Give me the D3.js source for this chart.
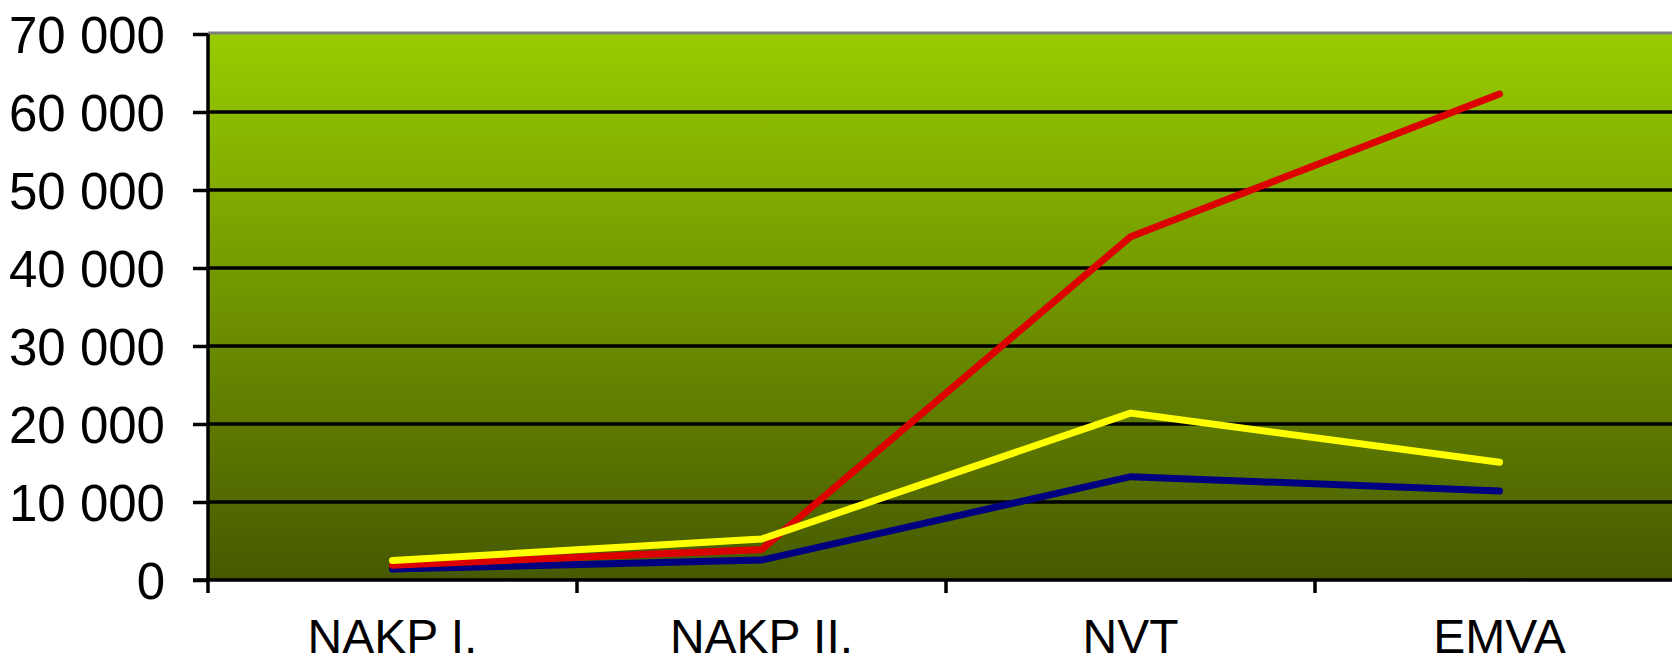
<!DOCTYPE html>
<html>
<head>
<meta charset="utf-8">
<script src="https://cdn.jsdelivr.net/npm/d3@7"></script>
<style>
  html, body { margin: 0; padding: 0; background: #fff; overflow: hidden; }
  svg { display: block; font-family: "Liberation Sans", Arial, sans-serif; }
</style>
</head>
<body>
<div id="chart"></div>
<script>
// data
var categories = ["NAKP I.", "NAKP II.", "NVT", "EMVA"];
var redValues = [1900, 3900, 44000, 62300];
var yellowValues = [2500, 5250, 21400, 15100];
var blueValues = [1400, 2550, 13250, 11400];
var yTicks = [0, 10000, 20000, 30000, 40000, 50000, 60000, 70000];

var width = 1672,
    height = 664;

var plot = { left: 208, top: 34, right: 1684, bottom: 580 };

var svg = d3.select("#chart").append("svg")
    .attr("width", width)
    .attr("height", height);

var x = d3.scaleBand()
    .domain(categories)
    .range([plot.left, plot.right]);

var y = d3.scaleLinear()
    .domain([0, 70000])
    .range([plot.bottom, plot.top]);

// background gradient
var defs = svg.append("defs");
var grad = defs.append("linearGradient")
    .attr("id", "bg")
    .attr("x1", 0).attr("y1", 0)
    .attr("x2", 0).attr("y2", 1);
grad.append("stop").attr("offset", "0%").attr("stop-color", "#99cc00");
grad.append("stop").attr("offset", "100%").attr("stop-color", "#465900");

svg.append("rect")
    .attr("x", plot.left)
    .attr("y", plot.top)
    .attr("width", plot.right - plot.left)
    .attr("height", plot.bottom - plot.top)
    .attr("fill", "url(#bg)");

// top border
svg.append("line")
    .attr("x1", plot.left).attr("x2", plot.right)
    .attr("y1", plot.top - 1).attr("y2", plot.top - 1)
    .attr("stroke", "#808080")
    .attr("stroke-width", 3);

// gridlines
svg.append("g")
    .selectAll("line")
    .data(yTicks.filter(d => d > 0 && d < 70000))
    .join("line")
    .attr("x1", plot.left).attr("x2", plot.right)
    .attr("y1", d => y(d)).attr("y2", d => y(d))
    .attr("stroke", "#000")
    .attr("stroke-width", 3.5);

// y axis
var fmt = function (d) {
    return d3.format(",")(d).replace(/,/g, " ");
};
var yAxis = svg.append("g")
    .attr("transform", "translate(" + plot.left + ",0)")
    .call(d3.axisLeft(y).tickValues(yTicks).tickSize(15).tickPadding(28).tickFormat(fmt));
yAxis.select(".domain")
    .attr("stroke", "#000").attr("stroke-width", 3.5)
    .attr("d", "M0," + y(70000) + "V" + (plot.bottom + 13));
yAxis.selectAll(".tick line").attr("stroke", "#000").attr("stroke-width", 3.5);
yAxis.selectAll(".tick text")
    .attr("fill", "#000")
    .attr("dy", "0.36em")
    .style("font-size", "51px");

// x axis
var xAxis = svg.append("g")
    .attr("transform", "translate(0," + plot.bottom + ")")
    .call(d3.axisBottom(x).tickSize(0).tickPadding(39));
xAxis.select(".domain")
    .attr("stroke", "#000").attr("stroke-width", 3.5)
    .attr("d", "M" + (plot.left - 15) + ",0H" + plot.right);
xAxis.selectAll(".tick text")
    .attr("fill", "#000")
    .style("font-size", "48px");

// boundary tick marks between categories
svg.append("g")
    .selectAll("line")
    .data(categories.slice(1))
    .join("line")
    .attr("x1", d => x(d)).attr("x2", d => x(d))
    .attr("y1", plot.bottom).attr("y2", plot.bottom + 13)
    .attr("stroke", "#000")
    .attr("stroke-width", 3.5);

// series lines
var line = d3.line()
    .x((d, i) => x(categories[i]) + x.bandwidth() / 2)
    .y(d => y(d));

var series = [
    { values: blueValues, color: "#000080" },
    { values: redValues, color: "#dd0000" },
    { values: yellowValues, color: "#ffff00" }
];

svg.append("g")
    .selectAll("path")
    .data(series)
    .join("path")
    .attr("d", d => line(d.values))
    .attr("fill", "none")
    .attr("stroke", d => d.color)
    .attr("stroke-width", 7)
    .attr("stroke-linecap", "round")
    .attr("stroke-linejoin", "miter");
</script>
</body>
</html>
